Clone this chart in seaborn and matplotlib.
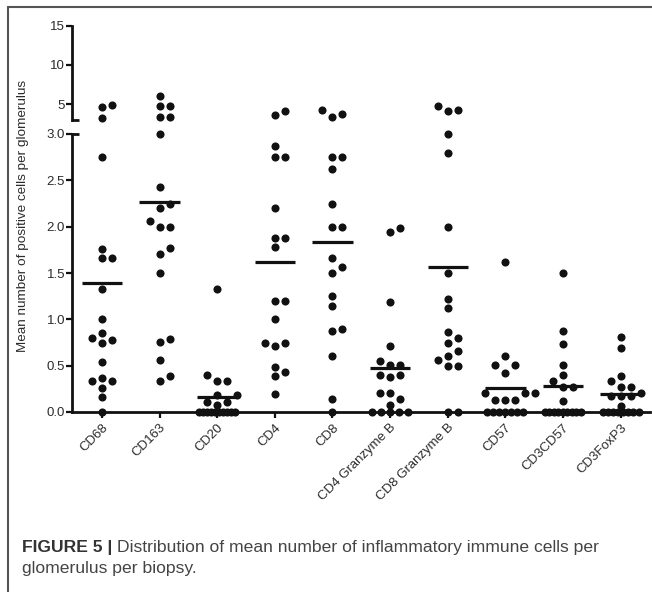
import matplotlib
matplotlib.use("Agg")
import matplotlib.pyplot as plt
from matplotlib.lines import Line2D
import numpy as np
import pandas as pd
import seaborn as sns

# marker panel, one dot per biopsy
MARKERS = ["CD68", "CD163", "CD20", "CD4", "CD8", "CD4 Granzyme B",
           "CD8 Granzyme B", "CD57", "CD3CD57", "CD3FoxP3"]

CD68 = [4.95, 4.7, 3.2, 2.75, 1.76, 1.66, 1.66, 1.33, 1.0, 0.85, 0.80, 0.78,
        0.75, 0.54, 0.37, 0.33, 0.33, 0.26, 0.16, 0.0]
CD163 = [6.05, 4.75, 4.75, 3.4, 3.35, 3.0, 2.43, 2.24, 2.2, 2.06, 2.0, 2.0,
         1.77, 1.71, 1.5, 0.79, 0.76, 0.56, 0.39, 0.33]
CD20 = [1.33, 0.40, 0.33, 0.33, 0.18, 0.18, 0.11, 0.11, 0.08,
        0, 0, 0, 0, 0, 0, 0, 0, 0, 0]
CD4 = [4.18, 3.6, 2.87, 2.75, 2.75, 2.2, 1.88, 1.88, 1.78, 1.2, 1.2, 1.0,
       0.75, 0.75, 0.71, 0.49, 0.43, 0.39, 0.19]
CD8 = [4.27, 3.72, 3.34, 2.75, 2.75, 2.62, 2.25, 2.0, 2.0, 1.66, 1.56, 1.5,
       1.25, 1.14, 0.9, 0.87, 0.6, 0.14, 0.0]
CD4_GRZB = [1.99, 1.94, 1.19, 0.71, 0.55, 0.51, 0.51, 0.40, 0.40, 0.38, 0.21,
            0.20, 0.14, 0.08, 0, 0, 0, 0, 0]
CD8_GRZB = [4.78, 4.27, 4.15, 3.0, 2.79, 2.0, 1.5, 1.22, 1.12, 0.86, 0.8, 0.75,
            0.66, 0.6, 0.56, 0.5, 0.5, 0.0, 0.0]
CD57 = [1.62, 0.6, 0.51, 0.51, 0.42, 0.21, 0.20, 0.20, 0.13, 0.13, 0.13,
        0, 0, 0, 0, 0, 0, 0]
CD3CD57 = [1.5, 0.87, 0.73, 0.51, 0.40, 0.33, 0.27, 0.27, 0.12,
           0, 0, 0, 0, 0, 0, 0, 0, 0]
CD3FOXP3 = [0.81, 0.69, 0.39, 0.33, 0.27, 0.27, 0.20, 0.17, 0.17, 0.17, 0.06,
            0, 0, 0, 0, 0, 0, 0, 0]
SERIES = [CD68, CD163, CD20, CD4, CD8, CD4_GRZB, CD8_GRZB, CD57, CD3CD57, CD3FOXP3]

# group means drawn as horizontal bars
MEANS = [1.39, 2.27, 0.16, 1.62, 1.83, 0.48, 1.57, 0.26, 0.28, 0.19]

LOW_TICKS = [0.0, 0.5, 1.0, 1.5, 2.0, 2.5, 3.0]
HIGH_TICKS = [5, 10, 15]
BREAK = 3.0
TOP = 15

YLABEL = "Mean number of positive cells per glomerulus"
CAP_BOLD = "FIGURE 5 |"
CAP_1 = "Distribution of mean number of inflammatory immune cells per"
CAP_2 = "glomerulus per biopsy."

INK = "#111111"
TXT = "#2b2b2b"

sns.set_theme(style="ticks")
plt.rcParams["font.family"] = ["Liberation Sans", "DejaVu Sans"]

W, H = 652, 592
fig = plt.figure(figsize=(W / 100, H / 100), dpi=100)
# two stacked axes = broken y axis (0-3 linear, 3-15 compressed)
ax_lo = fig.add_axes([72 / W, 1 - 412 / H, 578 / W, 278 / H])
ax_hi = fig.add_axes([72 / W, 1 - 120 / H, 578 / W, 94.3 / H])

XLIM = (-0.52, 9.51)
for ax in (ax_lo, ax_hi):
    ax.set_xlim(*XLIM)
ax_lo.set_ylim(0, BREAK)
ax_hi.set_ylim(BREAK, TOP)

# pixel scales, used to lay the dots out like a GraphPad column scatter
x_px = ax_lo.get_window_extent().width / (XLIM[1] - XLIM[0])
lo_px = ax_lo.get_window_extent().height / BREAK
hi_px = ax_hi.get_window_extent().height / (TOP - BREAK)
gap_px = ax_hi.get_window_extent().y0 - ax_lo.get_window_extent().y1


def ypix(v):
    v = np.asarray(v, float)
    return np.where(v <= BREAK, v * lo_px, BREAK * lo_px + gap_px + (v - BREAK) * hi_px)


def column_offsets(vals, step=10.0, mind=8.5, maxw=36.0):
    vals = np.asarray(vals, float)
    y = ypix(vals)
    off = np.zeros(len(vals))
    fixed = set()
    u, c = np.unique(vals, return_counts=True)
    for val, n in zip(u, c):
        if n >= 5:  # long tie rows (zeros) get squeezed like in the original
            idx = np.where(vals == val)[0]
            s = min(step, maxw / (n - 1))
            off[idx] = (np.arange(n) - (n - 1) / 2) * s
            fixed.update(idx.tolist())
    placed = []
    for i in np.argsort(vals, kind="stable"):
        if i in fixed:
            continue
        for k in [0, 1, -1, 2, -2, 3, -3, 4, -4]:
            x = k * step
            if all(np.hypot(x - off[j], y[i] - y[j]) >= mind for j in placed):
                break
        off[i] = x
        placed.append(i)
    return off / x_px


rows = []
for i, (name, vals) in enumerate(zip(MARKERS, SERIES)):
    offs = column_offsets(vals)
    for v, o in zip(vals, offs):
        rows.append({"marker": name, "value": v, "x": i + o})
df = pd.DataFrame(rows)

lo = df[df["value"] <= BREAK]
hi = df[df["value"] > BREAK]
sns.scatterplot(data=lo, x="x", y="value", ax=ax_lo, color=INK, s=34,
                linewidth=0, legend=False, clip_on=False, zorder=4)
sns.scatterplot(data=hi, x="x", y="value", ax=ax_hi, color=INK, s=34,
                linewidth=0, legend=False, clip_on=False, zorder=4)

pos = np.arange(len(MARKERS))
ax_lo.hlines(MEANS, pos - 0.35, pos + 0.35, color=INK, lw=2.3, zorder=3)

# axes styling
for ax in (ax_lo, ax_hi):
    ax.spines["top"].set_visible(False)
    ax.spines["right"].set_visible(False)
    ax.spines["left"].set_linewidth(2.0)
    ax.spines["left"].set_color(INK)
    ax.set_xlabel("")
    ax.set_ylabel("")
    ax.tick_params(axis="y", direction="out", length=4, width=1.6, color=INK,
                   labelsize=9.5, labelcolor=TXT, pad=1)
ax_lo.spines["bottom"].set_linewidth(2.0)
ax_lo.spines["bottom"].set_color(INK)
ax_hi.spines["bottom"].set_visible(False)
ax_hi.set_xticks([])

ax_lo.set_yticks(LOW_TICKS)
ax_lo.set_yticklabels([f"{t:.1f}" for t in LOW_TICKS])
ax_hi.set_yticks(HIGH_TICKS)
ax_hi.set_yticklabels([str(t) for t in HIGH_TICKS])

ax_lo.set_xticks(pos)
ax_lo.set_xticklabels(MARKERS, rotation=45, ha="right", rotation_mode="anchor")
ax_lo.tick_params(axis="x", direction="out", length=4, width=1.6, color=INK,
                  labelsize=9.5, labelcolor=TXT, pad=3)

# break caps at the ends of both spine pieces
for ax in (ax_lo, ax_hi):
    ax.plot([-0.002, 0.012], [BREAK, BREAK], transform=ax.get_yaxis_transform(),
            color=INK, lw=2.0, clip_on=False, solid_capstyle="butt")

fig.text(23 / W, 1 - 216 / H, YLABEL, rotation=90, ha="center", va="center",
         fontsize=9.7, color=TXT)

# panel frame (top + left rules)
fig.add_artist(Line2D([7.5 / W, 1], [1 - 6.5 / H, 1 - 6.5 / H], transform=fig.transFigure,
                      color="#555555", lw=1.5))
fig.add_artist(Line2D([7.5 / W, 7.5 / W], [0, 1 - 6.5 / H], transform=fig.transFigure,
                      color="#555555", lw=1.5))

# caption
cx, cy1, cy2 = 22 / W, 1 - 552 / H, 1 - 573 / H
t1 = fig.text(cx, cy1, CAP_BOLD, fontsize=12.6, fontweight="bold", color="#333333",
              va="baseline")
fig.canvas.draw()
bb = t1.get_window_extent()
fig.text(bb.x1 / W + 5 / W, cy1, CAP_1, fontsize=12.6, color="#444444", va="baseline")
fig.text(cx, cy2, CAP_2, fontsize=12.6, color="#444444", va="baseline")

fig.savefig("out.png", dpi=100)
